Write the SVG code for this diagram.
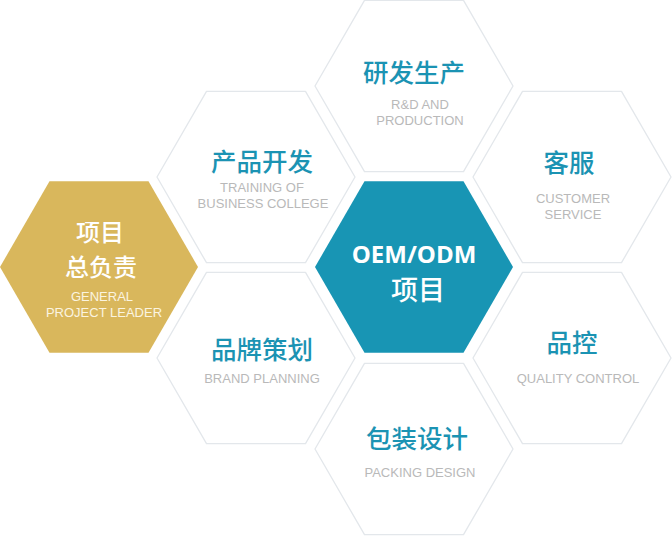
<svg xmlns="http://www.w3.org/2000/svg" xmlns:xlink="http://www.w3.org/1999/xlink" width="672" height="536" viewBox="0 0 672 536">
<style>
.hw{fill:#ffffff;stroke:#e3e7eb;stroke-width:1.3;stroke-linejoin:round}
.cn{font-family:"Noto Sans CJK SC","Noto Sans",sans-serif;font-size:25.5px;font-weight:500;fill:#1b93b3;text-anchor:middle}
.en{font-family:"Liberation Sans","Open Sans",sans-serif;font-size:13px;fill:#b9b9b9;text-anchor:middle}
.wcn{font-family:"Noto Sans CJK SC","Noto Sans",sans-serif;font-size:24px;font-weight:500;fill:#ffffff;text-anchor:middle}
.wen{font-family:"Liberation Sans","Open Sans",sans-serif;font-size:13px;fill:#fbf4e0;text-anchor:middle}
</style>
<defs>
<polygon id="hex" points="-99,0 -49.5,-85.7 49.5,-85.7 99,0 49.5,85.7 -49.5,85.7"/>
</defs>
<rect width="672" height="536" fill="#ffffff"/>
<g id="connectors"/>
<g id="rd">
<use xlink:href="#hex" class="hw" transform="translate(414,86)"/>
<text class="cn" x="414" y="82">研发生产</text>
<text class="en"><tspan x="420" y="109">R&amp;D AND</tspan><tspan x="420" y="125">PRODUCTION</tspan></text>
</g>
<g id="product-dev">
<use xlink:href="#hex" class="hw" transform="translate(256,177)"/>
<text class="cn" x="262" y="171">产品开发</text>
<text class="en"><tspan x="262" y="192">TRAINING OF</tspan><tspan x="263" y="208">BUSINESS COLLEGE</tspan></text>
</g>
<g id="service">
<use xlink:href="#hex" class="hw" transform="translate(572,177)"/>
<text class="cn" x="569" y="172">客服</text>
<text class="en"><tspan x="573" y="203">CUSTOMER</tspan><tspan x="573" y="219">SERVICE</tspan></text>
</g>
<g id="brand">
<use xlink:href="#hex" class="hw" transform="translate(256,358)"/>
<text class="cn" x="262" y="359">品牌策划</text>
<text class="en" x="262" y="383">BRAND PLANNING</text>
</g>
<g id="quality">
<use xlink:href="#hex" class="hw" transform="translate(572,358)"/>
<text class="cn" x="572" y="352">品控</text>
<text class="en" x="578" y="383">QUALITY CONTROL</text>
</g>
<g id="packing">
<use xlink:href="#hex" class="hw" transform="translate(414,449)"/>
<text class="cn" x="417" y="448">包装设计</text>
<text class="en" x="420" y="477">PACKING DESIGN</text>
</g>
<g id="leader">
<use xlink:href="#hex" fill="#d9b75c" transform="translate(99,267)"/>
<text class="wcn"><tspan x="100" y="241">项目</tspan><tspan x="101" y="276">总负责</tspan></text>
<text class="wen"><tspan x="102" y="301">GENERAL</tspan><tspan x="104" y="317">PROJECT LEADER</tspan></text>
</g>
<g id="oem">
<use xlink:href="#hex" fill="#1895b4" transform="translate(414,267)"/>
<text font-weight="700" fill="#ffffff" text-anchor="middle"><tspan x="414" y="263" font-family="'Open Sans','Liberation Sans',sans-serif" font-size="24">OEM/ODM</tspan><tspan x="418" y="300" font-family="'Noto Sans CJK SC','Noto Sans',sans-serif" font-size="27" font-weight="500">项目</tspan></text>
</g>
</svg>
